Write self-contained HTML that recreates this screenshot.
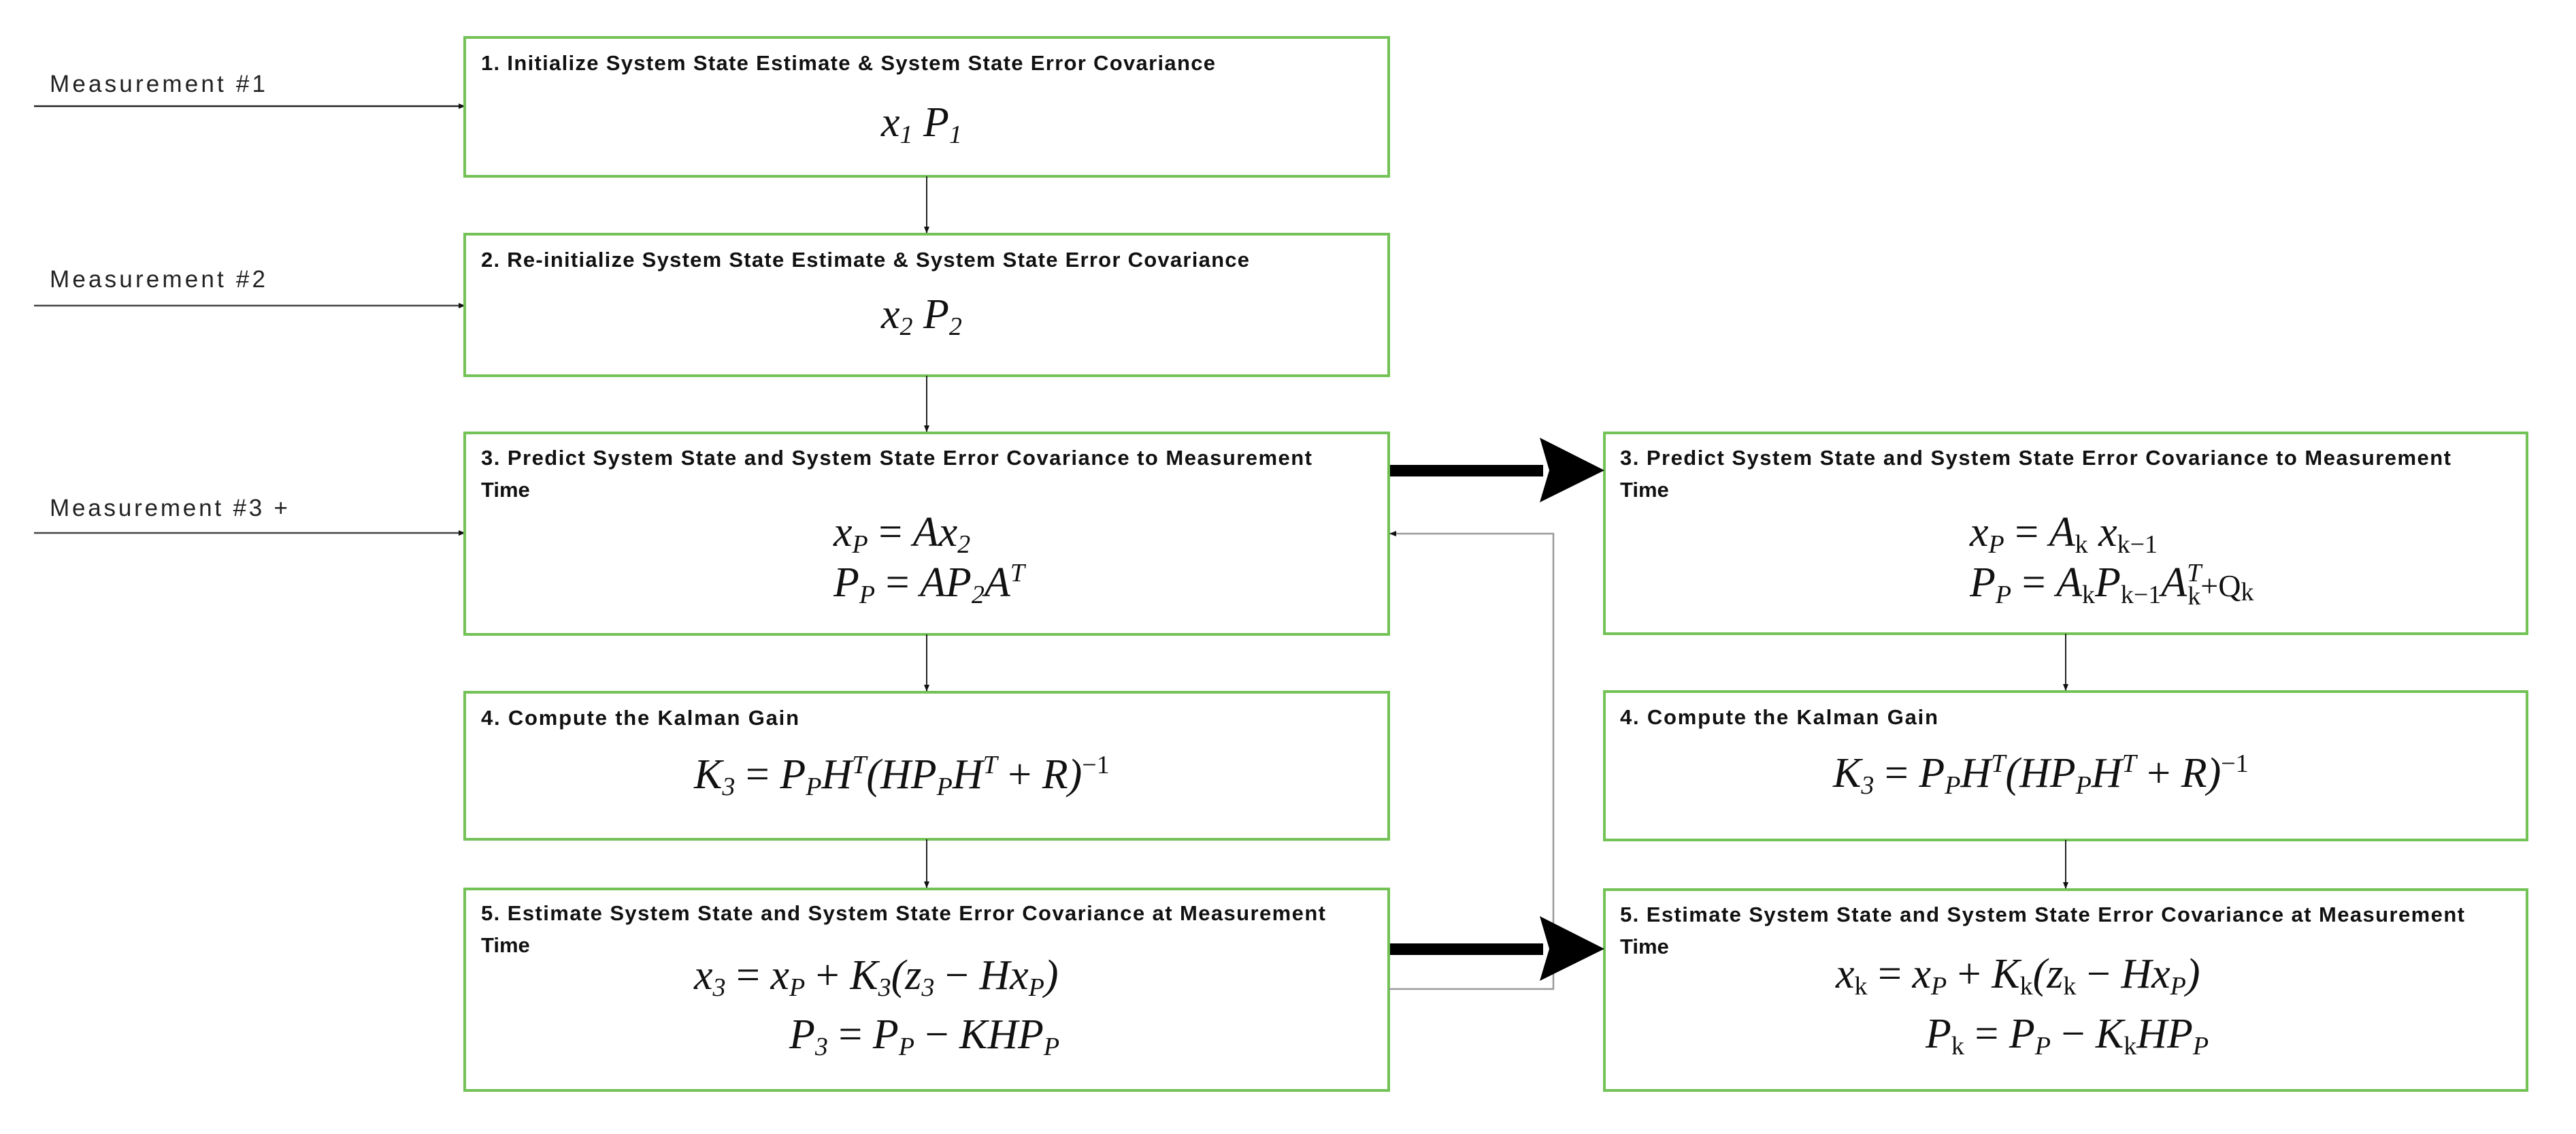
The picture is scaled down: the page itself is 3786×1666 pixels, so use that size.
<!DOCTYPE html>
<html><head><meta charset="utf-8"><style>
html,body{margin:0;padding:0;background:#fff}
svg{display:block}
.t{font-family:"Liberation Sans",sans-serif;font-weight:bold;font-size:31px;fill:#111}
.m{font-family:"Liberation Serif",serif;font-style:italic;font-size:62px;fill:#111}
.l{font-family:"Liberation Sans",sans-serif;font-size:35px;fill:#222}
.box{fill:#fff;stroke:#72c256;stroke-width:4}
</style></head><body>
<svg width="3786" height="1666" viewBox="0 0 3786 1666" xmlns="http://www.w3.org/2000/svg">
<defs>
<marker id="a" markerWidth="10" markerHeight="10" refX="9" refY="5" orient="auto" markerUnits="userSpaceOnUse"><path d="M0,1 L10,5 L0,9 Z" fill="#111"/></marker>
</defs>
<text class="l" x="73" y="135" textLength="317">Measurement #1</text>
<line x1="50" y1="156" x2="683" y2="156" stroke="#222" stroke-width="2.5" marker-end="url(#a)"/>
<text class="l" x="73" y="422" textLength="317">Measurement #2</text>
<line x1="50" y1="449" x2="683" y2="449" stroke="#444" stroke-width="2.5" marker-end="url(#a)"/>
<text class="l" x="73" y="758" textLength="350">Measurement #3 +</text>
<line x1="50" y1="783" x2="683" y2="783" stroke="#444" stroke-width="2.5" marker-end="url(#a)"/>

<rect class="box" x="683" y="55" width="1358" height="204"/>
<rect class="box" x="683" y="344" width="1358" height="208"/>
<rect class="box" x="683" y="636" width="1358" height="296"/>
<rect class="box" x="683" y="1017" width="1358" height="216"/>
<rect class="box" x="683" y="1306" width="1358" height="296"/>
<rect class="box" x="2358" y="636" width="1356" height="295"/>
<rect class="box" x="2358" y="1016" width="1356" height="218"/>
<rect class="box" x="2358" y="1307" width="1356" height="295"/>

<line x1="1362" y1="259" x2="1362" y2="342" stroke="#222" stroke-width="2" marker-end="url(#a)"/>
<line x1="1362" y1="552" x2="1362" y2="634" stroke="#222" stroke-width="2" marker-end="url(#a)"/>
<line x1="1362" y1="932" x2="1362" y2="1015" stroke="#222" stroke-width="2" marker-end="url(#a)"/>
<line x1="1362" y1="1233" x2="1362" y2="1304" stroke="#222" stroke-width="2" marker-end="url(#a)"/>
<line x1="3036" y1="931" x2="3036" y2="1014" stroke="#222" stroke-width="2" marker-end="url(#a)"/>
<line x1="3036" y1="1234" x2="3036" y2="1305" stroke="#222" stroke-width="2" marker-end="url(#a)"/>

<polyline points="2041,1453 2283,1453 2283,784 2043,784" fill="none" stroke="#999" stroke-width="2.5" marker-end="url(#a)"/>

<rect x="2043" y="683" width="225" height="17" fill="#000"/>
<path d="M2358,691 L2263,643 L2277,691 L2263,738 Z" fill="#000"/>
<rect x="2043" y="1386" width="225" height="17" fill="#000"/>
<path d="M2358,1394 L2263,1346 L2277,1394 L2263,1441 Z" fill="#000"/>

<text class="t" x="707" y="103" textLength="1079">1. Initialize System State Estimate &amp; System State Error Covariance</text>
<text class="t" x="707" y="392" textLength="1129">2. Re-initialize System State Estimate &amp; System State Error Covariance</text>
<text class="t" x="707" y="683" textLength="1221">3. Predict System State and System State Error Covariance to Measurement</text>
<text class="t" x="707" y="730">Time</text>
<text class="t" x="707" y="1065" textLength="467">4. Compute the Kalman Gain</text>
<text class="t" x="707" y="1352" textLength="1241">5. Estimate System State and System State Error Covariance at Measurement</text>
<text class="t" x="707" y="1399">Time</text>
<text class="t" x="2381" y="683" textLength="1221">3. Predict System State and System State Error Covariance to Measurement</text>
<text class="t" x="2381" y="730">Time</text>
<text class="t" x="2381" y="1064" textLength="467">4. Compute the Kalman Gain</text>
<text class="t" x="2381" y="1354" textLength="1241">5. Estimate System State and System State Error Covariance at Measurement</text>
<text class="t" x="2381" y="1401">Time</text>

<text class="m" x="1295" y="200">x<tspan font-size="38" dy="10">1</tspan><tspan dy="-10">  P</tspan><tspan font-size="38" dy="10">1</tspan></text>
<text class="m" x="1295" y="482">x<tspan font-size="38" dy="10">2</tspan><tspan dy="-10">  P</tspan><tspan font-size="38" dy="10">2</tspan></text>
<text class="m" x="1225" y="802">x<tspan font-size="38" dy="10">P</tspan><tspan dy="-10" font-style="normal"> = </tspan>Ax<tspan font-size="38" dy="10">2</tspan></text>
<text class="m" x="1225" y="876">P<tspan font-size="38" dy="10">P</tspan><tspan dy="-10" font-style="normal"> = </tspan>AP<tspan font-size="38" dy="10">2</tspan><tspan dy="-10">A</tspan><tspan font-size="38" dy="-22">T</tspan></text>
<text class="m" x="1020" y="1158">K<tspan font-size="38" dy="10">3</tspan><tspan dy="-10" font-style="normal"> =  </tspan>P<tspan font-size="38" dy="10">P</tspan><tspan dy="-10">H</tspan><tspan font-size="38" dy="-22">T</tspan><tspan dy="22">(HP</tspan><tspan font-size="38" dy="10">P</tspan><tspan dy="-10">H</tspan><tspan font-size="38" dy="-22">T</tspan><tspan dy="22" font-style="normal"> + </tspan>R)<tspan font-size="38" dy="-22" font-style="normal">−1</tspan></text>
<text class="m" x="1020" y="1453">x<tspan font-size="38" dy="10">3</tspan><tspan dy="-10" font-style="normal"> = </tspan>x<tspan font-size="38" dy="10">P</tspan><tspan dy="-10" font-style="normal"> + </tspan>K<tspan font-size="38" dy="10">3</tspan><tspan dy="-10">(z</tspan><tspan font-size="38" dy="10">3</tspan><tspan dy="-10" font-style="normal">  − </tspan>Hx<tspan font-size="38" dy="10">P</tspan><tspan dy="-10">)</tspan></text>
<text class="m" x="1160" y="1540">P<tspan font-size="38" dy="10">3</tspan><tspan dy="-10" font-style="normal"> = </tspan>P<tspan font-size="38" dy="10">P</tspan><tspan dy="-10" font-style="normal"> − </tspan>KHP<tspan font-size="38" dy="10">P</tspan></text>

<text class="m" x="2895" y="802">x<tspan font-size="38" dy="10">P</tspan><tspan dy="-10" font-style="normal"> = </tspan>A<tspan font-size="38" dy="10" font-style="normal">k</tspan><tspan dy="-10"> x</tspan><tspan font-size="38" dy="10" font-style="normal">k−1</tspan></text>
<text class="m" x="2895" y="876">P<tspan font-size="38" dy="10">P</tspan><tspan dy="-10" font-style="normal"> = </tspan>A<tspan font-size="38" dy="10" font-style="normal">k</tspan><tspan dy="-10">P</tspan><tspan font-size="38" dy="10" font-style="normal">k−1</tspan><tspan dy="-10">A</tspan><tspan font-size="38" dy="-22">T</tspan><tspan font-size="38" dx="-20" dy="34" font-style="normal">k</tspan><tspan font-style="normal" dy="-12" font-size="46">+Q</tspan><tspan font-size="38" dy="6" font-style="normal">k</tspan></text>
<text class="m" x="2694" y="1156">K<tspan font-size="38" dy="10">3</tspan><tspan dy="-10" font-style="normal"> =  </tspan>P<tspan font-size="38" dy="10">P</tspan><tspan dy="-10">H</tspan><tspan font-size="38" dy="-22">T</tspan><tspan dy="22">(HP</tspan><tspan font-size="38" dy="10">P</tspan><tspan dy="-10">H</tspan><tspan font-size="38" dy="-22">T</tspan><tspan dy="22" font-style="normal"> + </tspan>R)<tspan font-size="38" dy="-22" font-style="normal">−1</tspan></text>
<text class="m" x="2698" y="1451">x<tspan font-size="38" dy="10" font-style="normal">k</tspan><tspan dy="-10" font-style="normal"> = </tspan>x<tspan font-size="38" dy="10">P</tspan><tspan dy="-10" font-style="normal"> + </tspan>K<tspan font-size="38" dy="10" font-style="normal">k</tspan><tspan dy="-10">(z</tspan><tspan font-size="38" dy="10" font-style="normal">k</tspan><tspan dy="-10" font-style="normal">  − </tspan>Hx<tspan font-size="38" dy="10">P</tspan><tspan dy="-10">)</tspan></text>
<text class="m" x="2830" y="1539">P<tspan font-size="38" dy="10" font-style="normal">k</tspan><tspan dy="-10" font-style="normal"> = </tspan>P<tspan font-size="38" dy="10">P</tspan><tspan dy="-10" font-style="normal"> − </tspan>K<tspan font-size="38" dy="10" font-style="normal">k</tspan><tspan dy="-10">HP</tspan><tspan font-size="38" dy="10">P</tspan></text>
</svg>
</body></html>
